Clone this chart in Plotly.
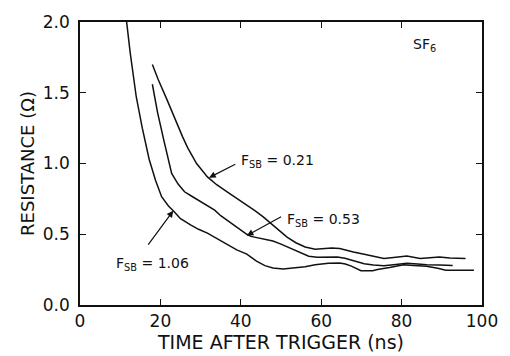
import plotly.graph_objects as go

# F_SB = 1.06
t_106 = [11.6, 12.5, 14.0, 15.5, 17.2, 18.8, 20.3, 22.0, 23.2, 25.0, 27.6, 29.5, 31.7, 33.5, 35.8,
         39.0, 41.5, 43.9, 46.0, 48.0, 50.5, 53.7, 56.0, 58.5, 61.8, 64.6, 66.0, 67.5, 69.9, 72.8,
         74.0, 77.0, 80.5, 83.0, 86.2, 89.0, 91.0, 95.5, 98.0]
r_106 = [2.0, 1.78, 1.47, 1.25, 1.03, 0.88, 0.765, 0.70, 0.666, 0.61, 0.564, 0.535, 0.508, 0.48, 0.441,
         0.39, 0.36, 0.31, 0.278, 0.262, 0.255, 0.262, 0.27, 0.284, 0.295, 0.297, 0.29, 0.275, 0.242, 0.242,
         0.251, 0.265, 0.284, 0.28, 0.273, 0.26, 0.246, 0.246, 0.245]

# F_SB = 0.53
t_053 = [18.0, 19.3, 20.8, 22.0, 22.8, 24.4, 26.0, 27.6, 29.5, 31.7, 33.5, 35.0, 37.0, 39.0, 41.5,
         42.5, 45.0, 48.0, 50.0, 53.7, 56.9, 59.0, 61.8, 64.0, 65.9, 68.3, 70.7, 73.0, 75.6, 78.0,
         81.3, 84.0, 86.2, 89.5, 92.7]
r_053 = [1.56, 1.36, 1.17, 1.02, 0.93, 0.855, 0.80, 0.772, 0.74, 0.705, 0.67, 0.631, 0.59, 0.552, 0.50,
         0.485, 0.468, 0.452, 0.43, 0.385, 0.345, 0.338, 0.34, 0.34, 0.33, 0.31, 0.291, 0.283, 0.278, 0.285,
         0.295, 0.29, 0.284, 0.282, 0.280]

# F_SB = 0.21
t_021 = [18.0, 19.5, 21.5, 23.5, 25.5, 26.8, 29.0, 31.7, 34.0, 36.6, 39.0, 41.5, 43.5, 45.5, 47.6,
         49.6, 51.5, 53.7, 56.0, 58.5, 60.5, 62.6, 64.6, 65.9, 68.0, 70.7, 73.0, 75.6, 78.0, 81.3,
         84.6, 87.0, 89.4, 92.0, 95.9]
r_021 = [1.70, 1.59, 1.46, 1.32, 1.19, 1.11, 1.00, 0.905, 0.85, 0.80, 0.755, 0.705, 0.667, 0.625, 0.575,
         0.53, 0.48, 0.44, 0.41, 0.394, 0.397, 0.403, 0.40, 0.389, 0.375, 0.358, 0.342, 0.329, 0.336, 0.347,
         0.329, 0.335, 0.340, 0.333, 0.329]

x_ticks = [0, 20, 40, 60, 80, 100]
y_ticks = [0.0, 0.5, 1.0, 1.5, 2.0]
y_tick_text = ["0.0", "0.5", "1.0", "1.5", "2.0"]

FONT = "DejaVu Sans, Liberation Sans, Arial, sans-serif"
INK = "#111111"

fig = go.Figure()
for t, r in [(t_106, r_106), (t_053, r_053), (t_021, r_021)]:
    fig.add_trace(go.Scatter(x=t, y=r, mode="lines", line=dict(color=INK, width=1.5),
                             showlegend=False, hoverinfo="skip"))

ann = []
labels = [
    ("F<sub>SB</sub> = 0.21", 39.6, 1.02),
    ("F<sub>SB</sub> = 0.53", 51.0, 0.60),
    ("F<sub>SB</sub> = 1.06", 8.4, 0.29),
]
for txt, x, y in labels:
    ann.append(dict(text=txt, x=x, y=y, xref="x", yref="y", xanchor="left", yanchor="middle",
                    showarrow=False, font=dict(family=FONT, size=14, color=INK)))
ann.append(dict(text="SF<sub>6</sub>", x=82.3, y=1.84, xref="x", yref="y", xanchor="left",
                yanchor="middle", showarrow=False, font=dict(family=FONT, size=14, color=INK)))
arrows = [
    (32.1, 0.90, 39.0, 1.00),
    (41.5, 0.49, 50.4, 0.63),
    (23.2, 0.666, 16.7, 0.416),
]
for hx, hy, tx, ty in arrows:
    ann.append(dict(text="", x=hx, y=hy, ax=tx, ay=ty, xref="x", yref="y", axref="x", ayref="y",
                    showarrow=True, arrowhead=2, arrowsize=1.1, arrowwidth=1.2, arrowcolor=INK,
                    standoff=0, startstandoff=0))

fig.update_layout(
    width=510, height=356,
    margin=dict(l=80, r=20, t=16, b=42),
    paper_bgcolor="white", plot_bgcolor="white",
    font=dict(family=FONT, size=16, color=INK),
    annotations=ann,
    xaxis=dict(range=[0, 100], tickvals=x_ticks, ticks="inside", ticklen=6, tickwidth=1.2,
               tickcolor=INK, showline=True, linecolor=INK, linewidth=1.5, mirror="ticks",
               showgrid=False, zeroline=False, tickfont=dict(size=17),
               title=dict(text="TIME AFTER TRIGGER (ns)", font=dict(size=19), standoff=0)),
    yaxis=dict(range=[0, 2.0], tickvals=y_ticks, ticktext=y_tick_text, ticks="inside", ticklen=6,
               tickwidth=1.2, tickcolor=INK, showline=True, linecolor=INK, linewidth=1.5,
               mirror="ticks", showgrid=False, zeroline=False, tickfont=dict(size=17),
               ticklabelstandoff=5,
               title=dict(text="RESISTANCE (Ω)", font=dict(size=18), standoff=4)),
)

fig.write_html("out.html")
